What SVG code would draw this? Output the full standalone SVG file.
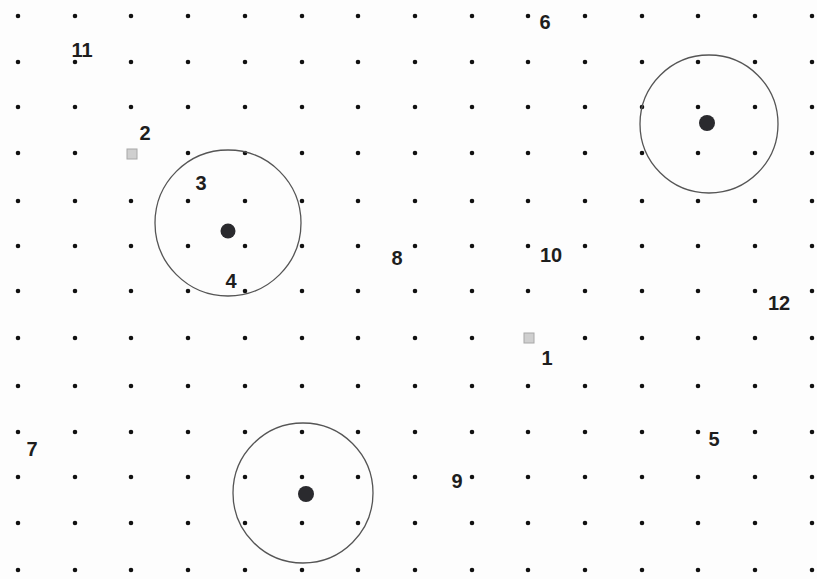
<svg xmlns="http://www.w3.org/2000/svg" width="817" height="579" viewBox="0 0 817 579">
<style>
.grid{fill:none;stroke:#111;stroke-width:4.6;stroke-linecap:round}
.ring{fill:none;stroke:#555;stroke-width:1.3}
.hub{fill:#2a2a2e}
.lbl{font-family:"Liberation Sans",Arial,sans-serif;font-size:20px;font-weight:bold;fill:#1e1e1e;text-anchor:middle}
.sq{fill:#cfcfcf;stroke:#a8a8a8;stroke-width:1}
</style>
<rect width="817" height="579" fill="#fdfdfd"/>
<defs>
<path id="row" d="M18 0h0M75 0h0M131 0h0M188 0h0M245 0h0M302 0h0M358 0h0M415 0h0M472 0h0M528 0h0M585 0h0M642 0h0M698 0h0M755 0h0M812 0h0"/>
</defs>
<g id="grid" class="grid">
<use href="#row" y="16"/>
<use href="#row" y="62"/>
<use href="#row" y="107"/>
<use href="#row" y="153"/>
<use href="#row" y="201"/>
<use href="#row" y="246"/>
<use href="#row" y="291"/>
<use href="#row" y="338"/>
<use href="#row" y="386"/>
<use href="#row" y="432"/>
<use href="#row" y="477"/>
<use href="#row" y="523"/>
<use href="#row" y="570"/>
</g>
<g id="connectors"></g>
<g id="circle-a"><circle class="ring" cx="228" cy="223" r="73"/><circle class="hub" cx="228" cy="231" r="7.5"/></g>
<g id="circle-b"><circle class="ring" cx="709" cy="124" r="69"/><circle class="hub" cx="707" cy="123" r="8"/></g>
<g id="circle-c"><circle class="ring" cx="303" cy="493" r="70"/><circle class="hub" cx="306" cy="494" r="8"/></g>
<g id="square-a"><rect class="sq" x="127" y="149" width="10" height="10"/></g>
<g id="square-b"><rect class="sq" x="524" y="333" width="10" height="10"/></g>
<g id="label-11"><text class="lbl" x="82" y="57">11</text></g>
<g id="label-2"><text class="lbl" x="145" y="140">2</text></g>
<g id="label-3"><text class="lbl" x="201" y="190">3</text></g>
<g id="label-4"><text class="lbl" x="231" y="288">4</text></g>
<g id="label-6"><text class="lbl" x="545" y="29">6</text></g>
<g id="label-8"><text class="lbl" x="397" y="265">8</text></g>
<g id="label-10"><text class="lbl" x="551" y="262">10</text></g>
<g id="label-12"><text class="lbl" x="779" y="310">12</text></g>
<g id="label-1"><text class="lbl" x="547" y="365">1</text></g>
<g id="label-7"><text class="lbl" x="32" y="456">7</text></g>
<g id="label-5"><text class="lbl" x="714" y="446">5</text></g>
<g id="label-9"><text class="lbl" x="457" y="488">9</text></g>
</svg>
